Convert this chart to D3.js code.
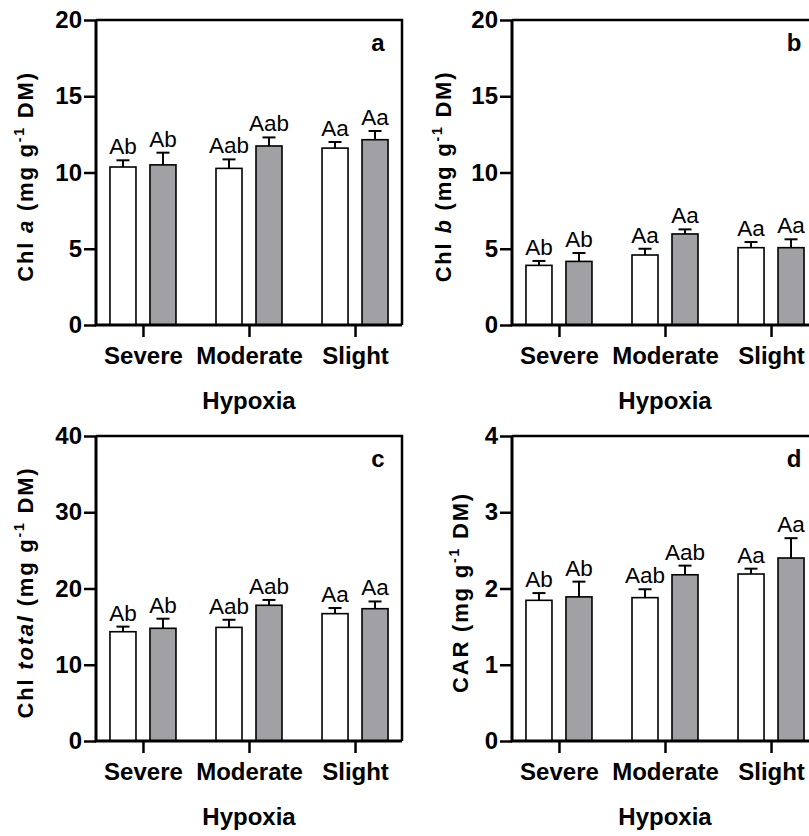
<!DOCTYPE html>
<html>
<head>
<meta charset="utf-8">
<script src="https://cdn.jsdelivr.net/npm/d3@7"></script>
<style>
  body { margin: 0; background: #fff; }
  svg { display: block; font-family: Arial, "Liberation Sans", sans-serif; }
</style>
</head>
<body>
<svg id="chart" width="809" height="836"></svg>
<script>
// categories and series
var categories = ["Severe", "Moderate", "Slight"];
var seriesNames = ["white", "gray"];

// panel a - Chl a
var chlAWhite = [10.36, 10.27, 11.6];
var chlAWhiteErr = [0.44, 0.59, 0.4];
var chlAGray = [10.5, 11.74, 12.15];
var chlAGrayErr = [0.8, 0.56, 0.57];
var chlAWhiteLetters = ["Ab", "Aab", "Aa"];
var chlAGrayLetters = ["Ab", "Aab", "Aa"];

// panel b - Chl b
var chlBWhite = [3.91, 4.59, 5.07];
var chlBWhiteErr = [0.29, 0.41, 0.37];
var chlBGray = [4.17, 5.97, 5.07];
var chlBGrayErr = [0.55, 0.3, 0.55];
var chlBWhiteLetters = ["Ab", "Aa", "Aa"];
var chlBGrayLetters = ["Ab", "Aa", "Aa"];

// panel c - Chl total
var chlTWhite = [14.33, 14.9, 16.7];
var chlTWhiteErr = [0.67, 1.0, 0.74];
var chlTGray = [14.78, 17.8, 17.35];
var chlTGrayErr = [1.26, 0.7, 0.95];
var chlTWhiteLetters = ["Ab", "Aab", "Aa"];
var chlTGrayLetters = ["Ab", "Aab", "Aa"];

// panel d - CAR
var carWhite = [1.845, 1.88, 2.19];
var carWhiteErr = [0.095, 0.11, 0.07];
var carGray = [1.89, 2.18, 2.40];
var carGrayErr = [0.2, 0.12, 0.26];
var carWhiteLetters = ["Ab", "Aab", "Aa"];
var carGrayLetters = ["Ab", "Aab", "Aa"];

// tick values
var ticksAB = [0, 5, 10, 15, 20];
var ticksC = [0, 10, 20, 30, 40];
var ticksD = [0, 1, 2, 3, 4];

var panels = [
  {tag: "a", x: 96, y: 20, ticks: ticksAB, pre: "Chl ", it: "a", labelOff: 63,
   white: chlAWhite, whiteErr: chlAWhiteErr, gray: chlAGray, grayErr: chlAGrayErr,
   wl: chlAWhiteLetters, gl: chlAGrayLetters},
  {tag: "b", x: 512, y: 20, ticks: ticksAB, pre: "Chl ", it: "b", labelOff: 61,
   white: chlBWhite, whiteErr: chlBWhiteErr, gray: chlBGray, grayErr: chlBGrayErr,
   wl: chlBWhiteLetters, gl: chlBGrayLetters},
  {tag: "c", x: 96, y: 436, ticks: ticksC, pre: "Chl ", it: "total", labelOff: 63,
   white: chlTWhite, whiteErr: chlTWhiteErr, gray: chlTGray, grayErr: chlTGrayErr,
   wl: chlTWhiteLetters, gl: chlTGrayLetters},
  {tag: "d", x: 512, y: 436, ticks: ticksD, pre: "CAR", it: "", labelOff: 44,
   white: carWhite, whiteErr: carWhiteErr, gray: carGray, grayErr: carGrayErr,
   wl: carWhiteLetters, gl: carGrayLetters}
];

var W = 306, H = 305;
var svg = d3.select("#chart");

var x = d3.scalePoint().domain(categories).range([0, W]).padding(0.443);
var xs = d3.scaleBand().domain(seriesNames).range([-33, 33]).paddingInner(0.35);
var fills = {white: "#ffffff", gray: "#a1a1a5"};

panels.forEach(function(p) {
  var g = svg.append("g").attr("transform", "translate(" + p.x + "," + p.y + ")");
  var y = d3.scaleLinear().domain([p.ticks[0], p.ticks[p.ticks.length - 1]]).range([H, 0]);

  // frame (top, right)
  g.append("path")
    .attr("d", "M0,0H" + W + "V" + H)
    .attr("fill", "none").attr("stroke", "#000").attr("stroke-width", 2.5);

  var rows = [];
  categories.forEach(function(c, i) {
    rows.push({cat: c, s: "white", v: p.white[i], e: p.whiteErr[i], l: p.wl[i]});
    rows.push({cat: c, s: "gray", v: p.gray[i], e: p.grayErr[i], l: p.gl[i]});
  });

  var bx = function(d) { return x(d.cat) + xs(d.s); };

  g.selectAll(".bar").data(rows).enter().append("rect")
    .attr("x", bx)
    .attr("y", function(d) { return y(d.v); })
    .attr("width", xs.bandwidth())
    .attr("height", function(d) { return H - y(d.v); })
    .attr("fill", function(d) { return fills[d.s]; })
    .attr("stroke", "#000").attr("stroke-width", 1.6);

  // error bars (upper only)
  var err = g.selectAll(".err").data(rows).enter().append("g")
    .attr("stroke", "#000").attr("stroke-width", 2);
  err.append("line")
    .attr("x1", function(d) { return bx(d) + xs.bandwidth() / 2; })
    .attr("x2", function(d) { return bx(d) + xs.bandwidth() / 2; })
    .attr("y1", function(d) { return y(d.v); })
    .attr("y2", function(d) { return y(d.v + d.e); });
  err.append("line")
    .attr("x1", function(d) { return bx(d) + xs.bandwidth() / 2 - 6.5; })
    .attr("x2", function(d) { return bx(d) + xs.bandwidth() / 2 + 6.5; })
    .attr("y1", function(d) { return y(d.v + d.e); })
    .attr("y2", function(d) { return y(d.v + d.e); });

  // significance letters
  g.selectAll(".lbl").data(rows).enter().append("text")
    .attr("x", function(d) { return bx(d) + xs.bandwidth() / 2; })
    .attr("y", function(d) { return y(d.v + d.e) - 6; })
    .attr("text-anchor", "middle")
    .attr("font-size", 22.5)
    .text(function(d) { return d.l; });

  // axes
  var ya = g.append("g").call(d3.axisLeft(y).tickValues(p.ticks).tickSize(12).tickPadding(2).tickFormat(d3.format("d")));
  var xa = g.append("g").attr("transform", "translate(0," + H + ")")
    .call(d3.axisBottom(x).tickSize(12).tickPadding(10));
  [ya, xa].forEach(function(a) {
    a.select(".domain").attr("stroke-width", 3).attr("d", a === ya ? "M0,0V" + H : "M-1," + 0 + "H" + W);
    a.selectAll(".tick line").attr("stroke-width", 2.5);
    a.selectAll("text").attr("font-size", 24).attr("font-weight", "bold").attr("fill", "#000");
  });

  // panel tag
  g.append("text").attr("x", 282).attr("y", 31)
    .attr("text-anchor", "middle").attr("font-size", 24).attr("font-weight", "bold")
    .text(p.tag);

  // x title
  g.append("text").attr("x", W / 2).attr("y", H + 84)
    .attr("text-anchor", "middle").attr("font-size", 24).attr("font-weight", "bold")
    .text("Hypoxia");

  // y title
  var yt = g.append("text")
    .attr("transform", "translate(" + (-p.labelOff) + "," + (H / 2 + 4) + ") rotate(-90)")
    .attr("text-anchor", "middle").attr("font-size", 22).attr("font-weight", "bold")
    .attr("letter-spacing", 1.8);
  yt.append("tspan").text(p.pre);
  if (p.it) yt.append("tspan").attr("font-style", "italic").text(p.it);
  yt.append("tspan").text(" (mg g");
  yt.append("tspan").attr("font-size", 14).attr("dy", -9).text("-1");
  yt.append("tspan").attr("dy", 9).text(" DM)");
});
</script>
</body>
</html>
